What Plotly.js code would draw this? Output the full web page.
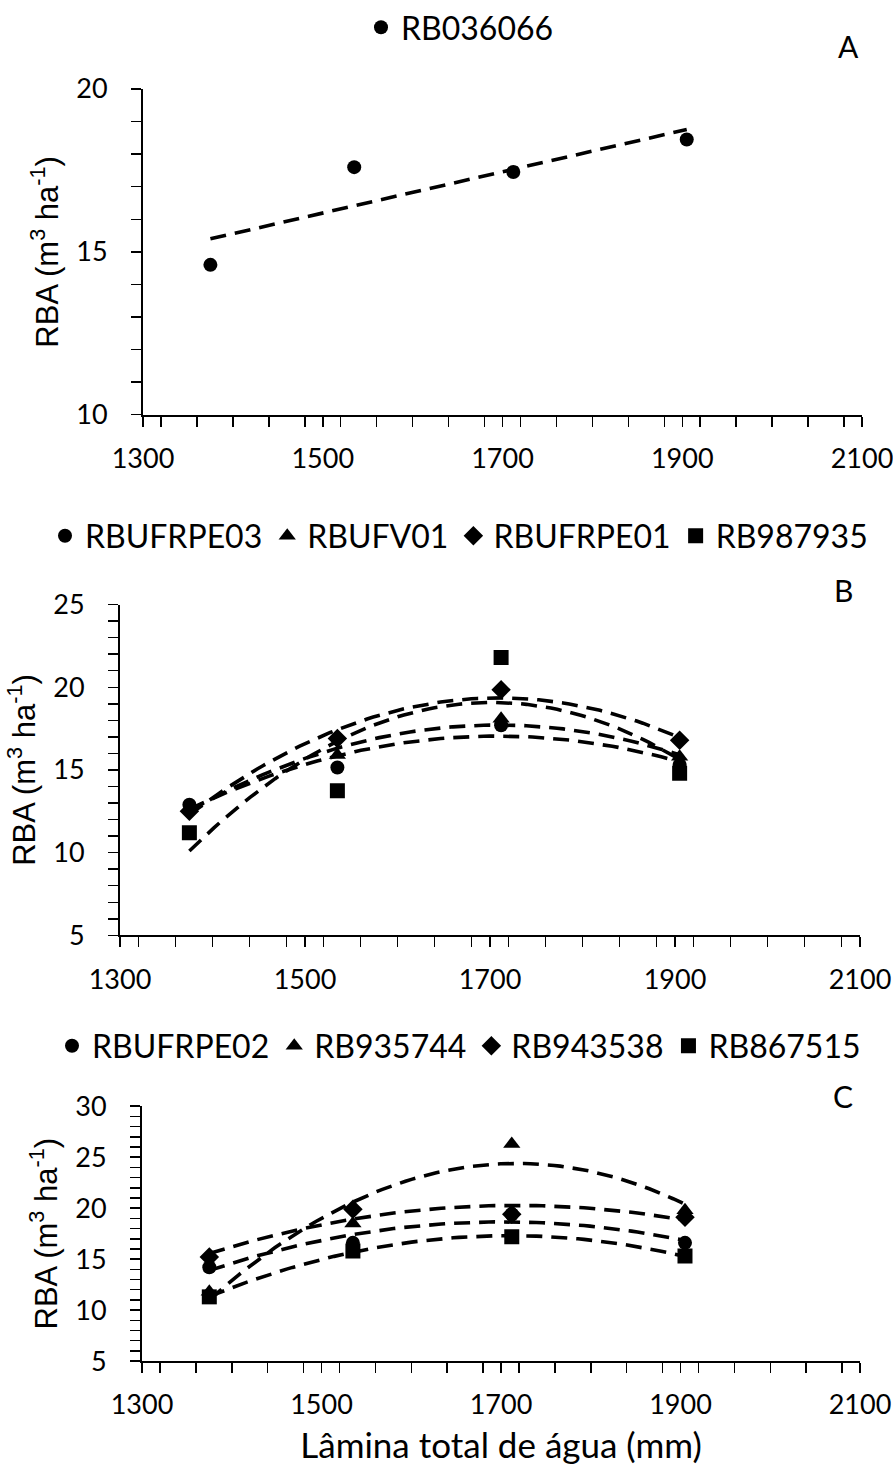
<!DOCTYPE html>
<html>
<head>
<meta charset="utf-8">
<script src="https://cdn.plot.ly/plotly-3.0.1.min.js"></script>
<style>html,body{margin:0;padding:0;background:#fff;}#chart{width:893px;height:1470px;}</style>
</head>
<body>
<div id="chart"></div>
<script>
// ---- data ----
const waterDepth = [1375, 1535, 1712, 1905];   // Lâmina total de água (mm)

// Panel A
const namesA = ["RB036066"];
const rb036066 = [14.6, 17.6, 17.45, 18.45];

// Panel B
const namesB = ["RBUFRPE03", "RBUFV01", "RBUFRPE01", "RB987935"];
const rbufrpe03 = [12.9, 15.15, 17.7, 15.3];
const rbufv01   = [12.7, 15.9, 18.1, 15.8];
const rbufrpe01 = [12.5, 16.9, 19.85, 16.8];
const rb987935  = [11.2, 13.75, 21.8, 14.8];

// Panel C
const namesC = ["RBUFRPE02", "RB935744", "RB943538", "RB867515"];
const rbufrpe02 = [14.2, 16.6, 19.4, 16.6];
const rb935744  = [11.8, 18.5, 26.3, 19.8];
const rb943538  = [15.2, 19.9, 19.4, 19.1];
const rb867515  = [11.3, 15.8, 17.2, 15.3];

const symbols = ["circle", "triangle-up", "diamond", "square"];
const yTitle = "RBA (m<sup>3</sup> ha<sup>-1</sup>)";
const xTitle = "Lâmina total de água (mm)";

// ---- least-squares trend (as the spreadsheet trendline) ----
function polyfit(xs, ys, deg) {
  const c = 1600, s = 100;
  const n = deg + 1;
  const A = Array.from({length: n}, () => new Array(n + 1).fill(0));
  xs.forEach((x0, k) => {
    const x = (x0 - c) / s;
    for (let i = 0; i < n; i++) {
      for (let j = 0; j < n; j++) A[i][j] += Math.pow(x, i + j);
      A[i][n] += ys[k] * Math.pow(x, i);
    }
  });
  for (let i = 0; i < n; i++) {
    let p = i;
    for (let r = i + 1; r < n; r++) if (Math.abs(A[r][i]) > Math.abs(A[p][i])) p = r;
    [A[i], A[p]] = [A[p], A[i]];
    for (let r = 0; r < n; r++) {
      if (r === i) continue;
      const f = A[r][i] / A[i][i];
      for (let j = i; j <= n; j++) A[r][j] -= f * A[i][j];
    }
  }
  const coef = A.map((row, i) => row[n] / row[i]);
  return x0 => { const x = (x0 - c) / s; return coef.reduce((acc, a, i) => acc + a * Math.pow(x, i), 0); };
}
function trend(xs, ys, deg) {
  const f = polyfit(xs, ys, deg);
  const x0 = Math.min(...xs), x1 = Math.max(...xs);
  const tx = [], ty = [];
  for (let i = 0; i <= 80; i++) { const x = x0 + (x1 - x0) * i / 80; tx.push(x); ty.push(f(x)); }
  return {tx, ty};
}

const traces = [];
function addPanel(seriesList, names, deg, ax, legendId) {
  seriesList.forEach((ys, i) => {
    const t = trend(waterDepth, ys, deg);
    traces.push({
      x: t.tx, y: t.ty, type: "scatter", mode: "lines",
      line: {color: "black", width: 3.6, dash: "16px,9px"},
      xaxis: "x" + ax, yaxis: "y" + ax, showlegend: false, hoverinfo: "skip"
    });
  });
  seriesList.forEach((ys, i) => {
    traces.push({
      x: waterDepth, y: ys, type: "scatter", mode: "markers", name: names[i],
      marker: {symbol: symbols[i], color: "black", size: i === 0 ? 14 : 15},
      xaxis: "x" + ax, yaxis: "y" + ax, legend: legendId
    });
  });
}
addPanel([rb036066], namesA, 1, "", "legend");
addPanel([rbufrpe03, rbufv01, rbufrpe01, rb987935], namesB, 2, "2", "legend2");
addPanel([rbufrpe02, rb935744, rb943538, rb867515], namesC, 2, "3", "legend3");

const W = 893, H = 1470;
const tickFont = {family: "Lato, sans-serif", size: 27, color: "black"};
function xAx(l, r, anchor, withTitle) {
  const o = {
    domain: [l / W, r / W], range: [1300, 2100], anchor: anchor,
    tick0: 1300, dtick: 200, ticks: "outside", ticklen: 10, tickwidth: 1.5, tickcolor: "black",
    minor: {dtick: 40, ticks: "outside", ticklen: 10, tickwidth: 1.5, tickcolor: "black"},
    showline: true, linecolor: "black", linewidth: 2, showgrid: false, zeroline: false,
    tickfont: tickFont, ticklabelstandoff: 9, ticklabeloverflow: "allow", fixedrange: true
  };
  if (withTitle) o.title = {text: xTitle, font: {family: "Lato, sans-serif", size: 35, color: "black"}, standoff: 14};
  return o;
}
function yAx(top, bottom, range, anchor) {
  return {
    domain: [1 - bottom / H, 1 - top / H], range: range, anchor: anchor,
    tick0: 0, dtick: 5, ticks: "outside", ticklen: 10, tickwidth: 1.5, tickcolor: "black",
    minor: {dtick: 1, ticks: "outside", ticklen: 10, tickwidth: 1.5, tickcolor: "black"},
    showline: true, linecolor: "black", linewidth: 2, showgrid: false, zeroline: false,
    tickfont: tickFont, ticklabelstandoff: 18, ticklabeloverflow: "allow", fixedrange: true,
    title: {text: yTitle, font: {family: "Liberation Sans, Arial, sans-serif", size: 31, color: "black"}, standoff: 8}
  };
}
const legFont = {family: "Lato, sans-serif", size: 32, color: "black"};
function leg(cx, cy) {
  return {orientation: "h", x: cx / W, y: 1 - cy / H, xanchor: "center", yanchor: "middle",
          font: legFont, bgcolor: "rgba(0,0,0,0)", itemclick: false, itemdoubleclick: false};
}
function letter(t, px, py) {
  return {text: t, xref: "paper", yref: "paper", x: px / W, y: 1 - py / H, xanchor: "center", yanchor: "middle",
          showarrow: false, font: {family: "Lato, sans-serif", size: 30, color: "black"}};
}

const layout = {
  width: W, height: H, margin: {l: 0, r: 0, t: 0, b: 0},
  paper_bgcolor: "white", plot_bgcolor: "white", showlegend: true,
  xaxis: xAx(143, 862, "y", false),
  yaxis: yAx(88, 414, [10, 20], "x"),
  xaxis2: xAx(120, 860, "y2", false),
  yaxis2: yAx(604, 935, [5, 25], "x2"),
  xaxis3: xAx(142, 860, "y3", true),
  yaxis3: yAx(1106, 1361, [5, 30], "x3"),
  legend: leg(460, 27),
  legend2: leg(459, 536),
  legend3: leg(459, 1046),
  annotations: [letter("A", 848, 45), letter("B", 843, 589), letter("C", 843, 1096)]
};

Plotly.newPlot("chart", traces, layout, {displayModeBar: false, staticPlot: true});
</script>
</body>
</html>
